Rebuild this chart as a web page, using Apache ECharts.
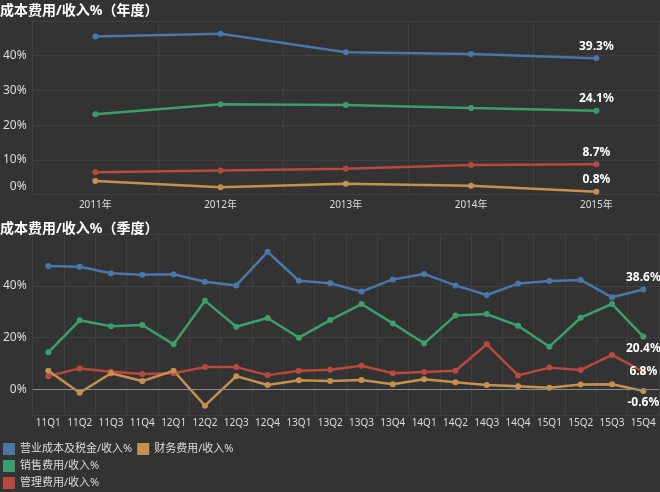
<!DOCTYPE html>
<html>
<head>
<meta charset="utf-8">
<script src="https://cdn.jsdelivr.net/npm/echarts@6/dist/echarts.min.js"></script>
<style>html,body{margin:0;padding:0;background:#333333;}#c{width:660px;height:492px;}</style>
</head>
<body>
<div id="c"></div>
<script>
const seriesNames = ['营业成本及税金/收入%', '销售费用/收入%', '管理费用/收入%', '财务费用/收入%'];
const titles = ['成本费用/收入%（年度）', '成本费用/收入%（季度）'];
const years = ['2011年', '2012年', '2013年', '2014年', '2015年'];
const yCost = [45.5, 46.3, 41.0, 40.5, 39.3];
const ySales = [23.1, 26.0, 25.8, 24.9, 24.1];
const yAdmin = [6.4, 6.9, 7.4, 8.5, 8.7];
const yFin = [3.9, 2.1, 3.1, 2.5, 0.8];
const quarters = ['11Q1','11Q2','11Q3','11Q4','12Q1','12Q2','12Q3','12Q4','13Q1','13Q2','13Q3','13Q4','14Q1','14Q2','14Q3','14Q4','15Q1','15Q2','15Q3','15Q4'];
const qCost = [47.7,47.4,44.9,44.3,44.5,41.6,40.2,53.2,42.0,41.0,37.8,42.5,44.6,40.2,36.5,40.9,41.9,42.3,35.6,38.6];
const qSales = [14.3,26.7,24.4,24.9,17.4,34.3,24.2,27.6,20.0,26.8,33.0,25.5,17.8,28.6,29.1,24.6,16.5,27.7,33.0,20.4];
const qAdmin = [5.1,8.1,6.8,5.9,6.2,8.6,8.6,5.5,7.2,7.6,9.1,6.2,6.7,7.2,17.4,5.4,8.4,7.5,13.3,6.8];
const qFin = [7.2,-1.3,6.2,3.2,7.2,-6.3,5.1,1.7,3.5,3.2,3.6,2.0,3.9,2.7,1.7,1.2,0.6,1.9,2.0,-0.6];
const zeroLine = 0;

const colors = ['#4a76a8', '#3c9e6c', '#b8493f', '#c4914f'];
const FONT = '"Noto Sans", "Noto Sans CJK SC", sans-serif';
const gridColor = '#3f3f3f';

function mkSeries(name, data, xi, color, pos, extra) {
  const last = data.length - 1;
  const s = {
    name: name, type: 'line', xAxisIndex: xi, yAxisIndex: xi, data: data,
    symbol: 'circle', symbolSize: 6, color: color,
    lineStyle: { width: 2.5, color: color },
    itemStyle: { color: color },
    label: {
      show: true, position: pos, distance: 3,
      color: '#ffffff', fontWeight: 'bold', fontSize: 12, fontFamily: FONT,
      formatter: p => p.dataIndex === last ? p.value.toFixed(1) + '%' : ''
    },
    emphasis: { disabled: true }
  };
  return Object.assign(s, extra || {});
}

const chart = echarts.init(document.getElementById('c'), null, { renderer: 'canvas' });
chart.setOption({
  backgroundColor: '#333333',
  animation: false,
  title: [
    { text: titles[0], left: 0, top: 4, padding: 0, textStyle: { color: '#ffffff', fontSize: 14, fontWeight: 'bold', fontFamily: FONT } },
    { text: titles[1], left: 0, top: 222, padding: 0, textStyle: { color: '#ffffff', fontSize: 14, fontWeight: 'bold', fontFamily: FONT } }
  ],
  legend: {
    orient: 'vertical', left: 3, top: 443, padding: 0,
    itemWidth: 12, itemHeight: 12, itemGap: 5,
    icon: 'rect',
    data: seriesNames,
    textStyle: { color: '#dddddd', fontSize: 11, fontFamily: FONT }
  },
  grid: [
    { left: 29, right: 1, top: 21, height: 173.5 },
    { left: 29, right: 1, top: 234.2, height: 181 }
  ],
  xAxis: [
    { type: 'category', gridIndex: 0, data: years, boundaryGap: true,
      axisLine: { show: false }, axisTick: { show: false },
      axisLabel: { color: '#dddddd', fontSize: 10, margin: 6, interval: 0, fontFamily: FONT },
      splitLine: { show: true, interval: 0, lineStyle: { color: gridColor } } },
    { type: 'category', gridIndex: 1, data: quarters, boundaryGap: true,
      axisLine: { show: false, onZero: false }, axisTick: { show: false },
      axisLabel: { color: '#dddddd', fontSize: 10, margin: 3, interval: 0, fontFamily: FONT },
      splitLine: { show: true, interval: 0, lineStyle: { color: gridColor } } }
  ],
  yAxis: [
    { type: 'value', gridIndex: 0, min: 0, max: 50, interval: 10,
      axisLine: { show: false }, axisTick: { show: false },
      axisLabel: { color: '#dddddd', fontSize: 12, margin: 6, showMaxLabel: false, fontFamily: FONT,
        formatter: v => v === 0 ? '{lo|0%}' : v + '%',
        rich: { lo: { color: '#dddddd', fontSize: 12, fontFamily: FONT, padding: [0, 0, 16, 0] } } },
      splitLine: { show: true, lineStyle: { color: gridColor } } },
    { type: 'value', gridIndex: 1, min: -10, max: 60, splitNumber: 4,
      axisLine: { show: false }, axisTick: { show: false },
      axisLabel: { color: '#dddddd', fontSize: 12, margin: 6, showMaxLabel: false, showMinLabel: false, fontFamily: FONT,
        formatter: v => v + '%' },
      splitLine: { show: true, lineStyle: { color: gridColor } } }
  ],
  series: [
    mkSeries(seriesNames[0], yCost, 0, colors[0], 'top'),
    mkSeries(seriesNames[1], ySales, 0, colors[1], 'top'),
    mkSeries(seriesNames[2], yAdmin, 0, colors[2], 'top'),
    mkSeries(seriesNames[3], yFin, 0, colors[3], 'top'),
    mkSeries(seriesNames[0], qCost, 1, colors[0], 'top', {
      markLine: { silent: true, symbol: 'none', label: { show: false },
        lineStyle: { color: '#8a8a8a', width: 1, type: 'solid' },
        data: [{ yAxis: zeroLine }] }
    }),
    mkSeries(seriesNames[1], qSales, 1, colors[1], 'bottom'),
    mkSeries(seriesNames[2], qAdmin, 1, colors[2], 'inside'),
    mkSeries(seriesNames[3], qFin, 1, colors[3], 'bottom')
  ]
});
</script>
</body>
</html>
